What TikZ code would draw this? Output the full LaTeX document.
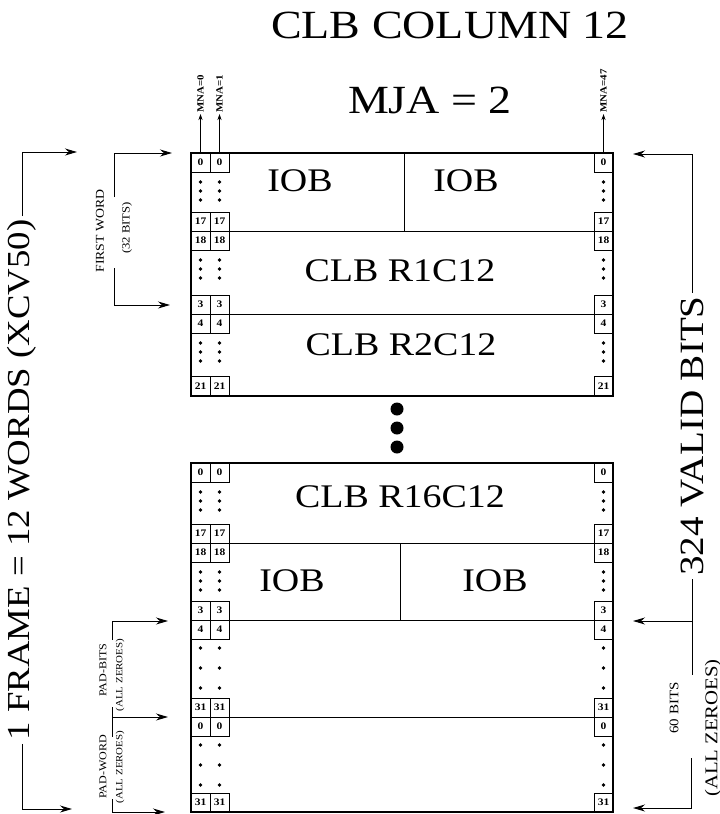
\documentclass[tikz,border=0pt]{standalone}
\usepackage{fontspec}
\setmainfont{Liberation Serif}
\newfontfamily\widefont[FakeStretch=1.15]{Liberation Serif}
\usetikzlibrary{arrows.meta, positioning, calc}

\begin{document}
\begin{tikzpicture}[
  x=1pt, y=-1pt, >={Stealth[length=12pt, width=7pt]}, line width=1pt,
  headline/.style={font=\widefont\fontsize{40}{44}\selectfont, inner sep=0pt},
  blk/.style={font=\widefont\fontsize{33}{38}\selectfont, inner sep=0pt},
  ann/.style={rotate=90, font=\widefont\fontsize{#1}{#1}\selectfont, inner sep=3pt},
  mna/.style={rotate=90, anchor=west, font=\widefont\bfseries\fontsize{9.5}{10}\selectfont, inner sep=1pt},
  bitbox/.style={draw, line width=0.8pt, minimum width=19pt, minimum height=19pt, inner sep=0pt,
    font=\widefont\bfseries\fontsize{10}{11}\selectfont},
  mnaarrow/.style={-{Stealth[length=6pt, width=4pt]}, line width=0.8pt}
]
  \useasboundingbox (0,0) rectangle (720,814);

  % les deux blocs de la colonne
  \draw[line width=1.6pt] (191,153) rectangle (613,396);
  \draw (191,231) -- (613,231);
  \draw (191,314) -- (613,314);
  \draw (404,153) -- (404,231);

  \draw[line width=1.6pt] (191,463) rectangle (613,812);
  \draw (191,543) -- (613,543);
  \draw (191,620) -- (613,620);
  \draw (191,717) -- (613,717);
  \draw (400,543) -- (400,620);

  % cases des bits
  \foreach \lab/\y [count=\i] in {0/162.5, 17/221.5, 18/240.5, 3/304.5, 4/323.5, 21/386,
      0/472.5, 17/533.5, 18/552.5, 3/610.5, 4/629.5, 31/707.5, 0/726.5, 31/802.5} {
    \node[bitbox] (A\i) at (200.5,\y) {\lab};
    \node[bitbox] (B\i) at (219.5,\y) {\lab};
    \node[bitbox] (Z\i) at (603.5,\y) {\lab};
  }
  \foreach \y in {182,191,200, 260,269,278, 343,352,361, 492,501,510, 572,581,590,
      648,668,688, 745,765,785}
    \foreach \x in {200.5,219.5,603.5}
      \fill (\x,\y) circle (1.9);
  \foreach \y in {409,428,447}
    \fill (397,\y) circle (6.5);

  \node[headline] (col) at (450,25) {CLB COLUMN 12};
  \node[headline] (mja) at (430,100) {MJA = 2};

  \node[blk] (iob1) at (300,181) {IOB};
  \node[blk] (iob2) at (466,181) {IOB};
  \node[blk] (r1) at (400,271) {CLB R1C12};
  \node[blk] (r2) at (401,345) {CLB R2C12};
  \node[blk] (r16) at (400,497) {CLB R16C12};
  \node[blk] (iob3) at (292,581) {IOB};
  \node[blk] (iob4) at (495,581) {IOB};

  \node[mna] (mna0) at (200.5,114) {MNA=0};
  \node[mna] (mna1) at (219.5,114) {MNA=1};
  \node[mna] (mna47) at (603.5,114) {MNA=47};
  \draw[mnaarrow] (A1.north) -- (mna0.west);
  \draw[mnaarrow] (B1.north) -- (mna1.west);
  \draw[mnaarrow] (Z1.north) -- (mna47.west);

  % accolades de gauche
  \node[ann=32] (frame) at (22,480) {1 FRAME = 12 WORDS (XCV50)};
  \coordinate (frametop) at (77,152);
  \coordinate (framebot) at (72,809);
  \draw[->] (frame.east) |- (frametop);
  \draw[->] (frame.west) |- (framebot);

  \node[ann=12] (fw) at (100,231) {FIRST WORD};
  \node[ann=11] (fwbits) at (127,228) {(32 BITS)};
  \coordinate (fw1) at (114,197);
  \coordinate (fw2) at (114,268);
  \coordinate (fwtop) at (172,153);
  \coordinate (fwbot) at (170,305);
  \draw[->] (fw1) |- (fwtop);
  \draw[->] (fw2) |- (fwbot);

  \node[ann=10.5] (pb) at (103,670) {PAD-BITS};
  \node[ann=9.5] (pbz) at (120,675) {(ALL ZEROES)};
  \node[ann=10.5] (pw) at (103,767) {PAD-WORD};
  \node[ann=9.5] (pwz) at (120,767) {(ALL ZEROES)};
  \coordinate (pb1) at (112,640);
  \coordinate (pbt) at (168,621);
  \draw[->] (pb1) |- (pbt);
  \coordinate (pj1) at (112,707);
  \coordinate (pj2) at (112,737);
  \coordinate (pj) at (112,717);
  \coordinate (pjt) at (168,717);
  \draw (pj1) -- (pj2);
  \draw[->] (pj) -- (pjt);
  \coordinate (pw1) at (112,799);
  \coordinate (pwt) at (165,812);
  \draw[->] (pw1) |- (pwt);

  % accolades de droite
  \node[ann=34] (valid) at (692,436) {324 VALID BITS};
  \coordinate (vt) at (633,154);
  \draw[->] (valid.east) |- (vt);
  \coordinate (sb1) at (692,675);
  \coordinate (sbj) at (692,621);
  \coordinate (sbt) at (633,621);
  \draw (valid.west) -- (sb1);
  \draw[->] (sbj) -- (sbt);
  \node[ann=13] (sb) at (674,708) {60 BITS};
  \node[ann=18] (sbz) at (713,728) {(ALL ZEROES)};
  \coordinate (sb2) at (691,758);
  \coordinate (sbb) at (633,808);
  \draw[->] (sb2) |- (sbb);
\end{tikzpicture}
\end{document}
